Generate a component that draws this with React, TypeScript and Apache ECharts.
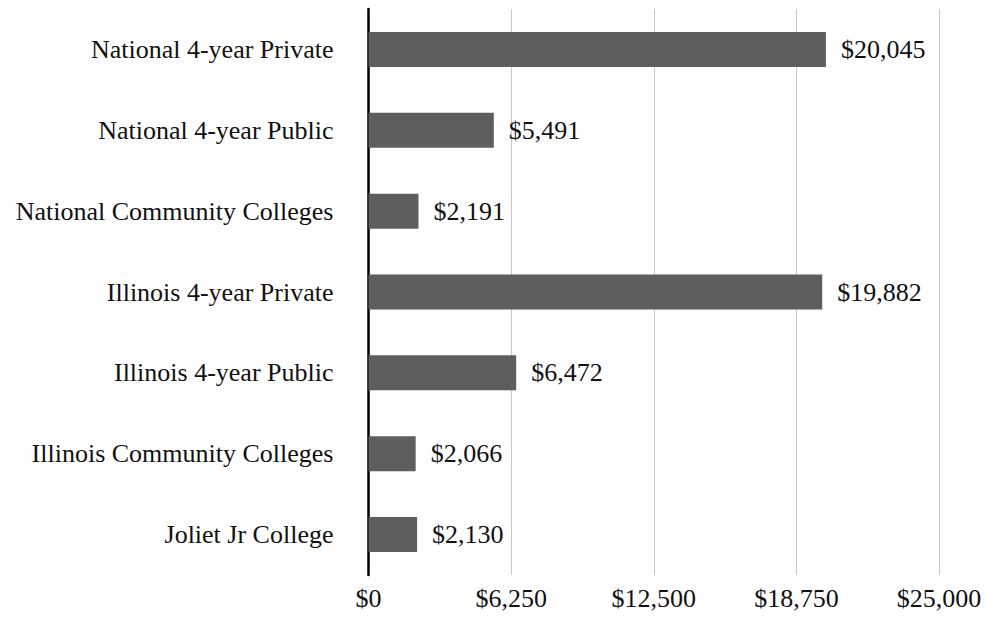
import React, { useEffect, useRef } from "react";
import * as echarts from "echarts";

const categories = [
  "National 4-year Private",
  "National 4-year Public",
  "National Community Colleges",
  "Illinois 4-year Private",
  "Illinois 4-year Public",
  "Illinois Community Colleges",
  "Joliet Jr College",
];
const values = [20045, 5491, 2191, 19882, 6472, 2066, 2130];
const xTicks = [0, 6250, 12500, 18750, 25000];

const FONT = "'Liberation Serif', 'Times New Roman', serif";

function fmt(v: number) {
  return "$" + v.toLocaleString("en-US");
}

export default function App() {
  const ref = useRef<HTMLDivElement>(null);
  useEffect(() => {
    if (!ref.current) return;
    const chart = echarts.init(ref.current, null, { renderer: "svg" });
    chart.setOption({
      animation: false,
      backgroundColor: "#ffffff",
      grid: { left: 368.5, top: 9, width: 570.5, height: 566, containLabel: false },
      xAxis: {
        type: "value",
        min: xTicks[0],
        max: xTicks[xTicks.length - 1],
        interval: 6250,
        axisLine: { show: false },
        axisTick: { show: false },
        splitLine: { show: true, lineStyle: { color: "#c6c6c6", width: 1 } },
        axisLabel: {
          margin: 10,
          color: "#111",
          fontFamily: FONT,
          fontSize: 26,
          formatter: (v: number) => fmt(v),
        },
      },
      yAxis: {
        type: "category",
        data: categories,
        inverse: true,
        axisLine: { show: true, onZero: false, lineStyle: { color: "#000", width: 2.5 } },
        axisTick: { show: false },
        axisLabel: {
          margin: 35,
          color: "#111",
          fontFamily: FONT,
          fontSize: 26,
        },
      },
      series: [
        {
          type: "bar",
          data: values,
          barWidth: 35,
          itemStyle: { color: "#5e5e5e" },
          label: {
            show: true,
            position: "right",
            distance: 15,
            color: "#111",
            fontFamily: FONT,
            fontSize: 26,
            formatter: (p: any) => fmt(p.value),
          },
        },
      ],
    });
    return () => chart.dispose();
  }, []);
  return <div ref={ref} style={{ width: 986, height: 619, position: "absolute", left: 0, top: 0 }} />;
}
